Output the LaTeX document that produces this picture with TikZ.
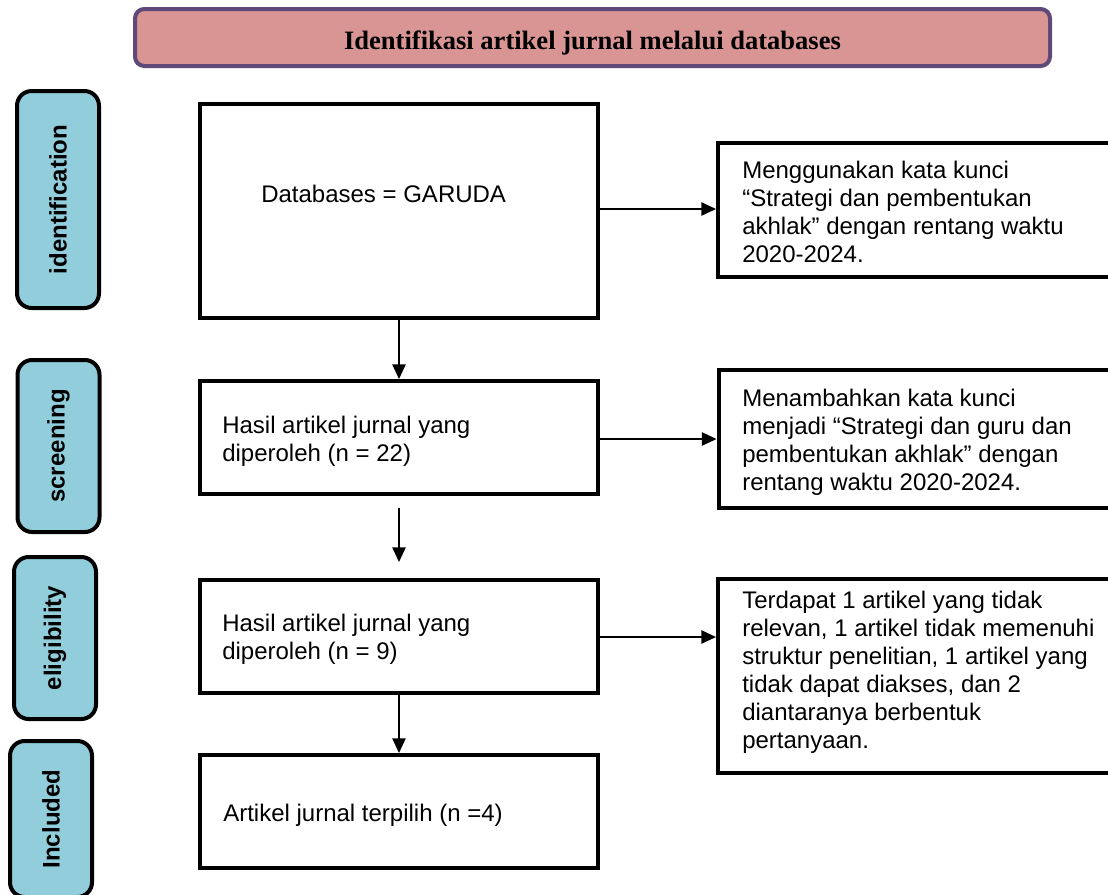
\documentclass[tikz,border=0pt]{standalone}
\usepackage{fontspec}
\setmainfont{Liberation Sans}
\newfontfamily\titlefont{Liberation Serif}
\usetikzlibrary{arrows.meta}
\definecolor{titlefill}{HTML}{D99594}
\definecolor{titleline}{HTML}{5F497A}
\definecolor{sideblue}{HTML}{92CDDC}
\begin{document}
\begin{tikzpicture}[x=0.75pt,y=-0.75pt,
  box/.style={draw, line width=3pt, rectangle, inner sep=0pt, minimum width=298.5pt},
  rbox/.style={draw, line width=3pt, rectangle, inner sep=0pt, minimum width=294.75pt},
  side/.style={draw, line width=3pt, rounded corners=11pt, fill=sideblue, rotate=90,
    minimum height=61.5pt, inner sep=0pt, font=\fontsize{18}{21}\selectfont\bfseries},
  arr/.style={-{Triangle[length=11pt,width=10pt]}, line width=1.1pt},
  txt/.style={anchor=base west, align=left, inner sep=0pt, font=\fontsize{18}{21}\selectfont}]
\useasboundingbox (0,0) rectangle (1108,894);

% title
\node[draw=titleline, line width=3pt, fill=titlefill, rounded corners=7pt,
  minimum width=686.25pt, minimum height=42.75pt, inner sep=0pt] (title) at (592.5,37.5) {};
\node[anchor=base, inner sep=0pt, font=\titlefont\bfseries\fontsize{19.9}{22}\selectfont] (titletext) at (592.5,49) {Identifikasi artikel jurnal melalui databases};

% side labels
\node[side, minimum width=162.75pt] (sIdent) at (58,199.5) {identification};
\node[side, minimum width=129pt] (sScreen) at (58.5,446) {screening};
\node[side, minimum width=121.5pt] (sElig) at (55,638) {eligibility};
\node[side, minimum width=117pt] (sIncl) at (51,819) {Included};

% main boxes
\node[box, minimum height=160.5pt] (b1) at (399,211) {};
\node[box, minimum height=84.75pt] (b2) at (399,437.5) {};
\node[box, minimum height=84.75pt] (b3) at (399,636.5) {};
\node[box, minimum height=84.75pt] (b4) at (399,811.5) {};

% text nodes: anchor is the baseline of the last line
\node[txt] (t1) at (261,202) {Databases = GARUDA};
\node[txt] (t2) at (222,461.5) {Hasil artikel jurnal yang\\diperoleh (n = 22)};
\node[txt] (t3) at (222,659.5) {Hasil artikel jurnal yang\\diperoleh (n = 9)};
\node[txt] (t4) at (223,821.5) {Artikel jurnal terpilih (n =4)};

% right boxes
\node[rbox, minimum height=100.5pt] (r1) at (914.5,210) {};
\node[rbox, minimum height=103.5pt] (r2) at (915,439) {};
\node[rbox, minimum height=145.5pt] (r3) at (914.5,676) {};

\node[txt] (rt1) at (742,262) {Menggunakan kata kunci\\“Strategi dan pembentukan\\akhlak” dengan rentang waktu\\2020-2024.};
\node[txt] (rt2) at (742,490) {Menambahkan kata kunci\\menjadi “Strategi dan guru dan\\pembentukan akhlak” dengan\\rentang waktu 2020-2024.};
\node[txt] (rt3) at (742,748) {Terdapat 1 artikel yang tidak\\relevan, 1 artikel tidak memenuhi\\struktur penelitian, 1 artikel yang\\tidak dapat diakses, dan 2\\diantaranya berbentuk\\pertanyaan.};

% connectors
\coordinate (h1) at (0,209);
\coordinate (h2) at (0,439);
\coordinate (h3) at (0,637);
\draw[arr] (b1.east |- h1) -- (r1.west |- h1);
\draw[arr] (b2.east |- h2) -- (r2.west |- h2);
\draw[arr] (b3.east |- h3) -- (r3.west |- h3);
\draw[arr] (b1.south) -- (b2.north);
\draw[arr] ([yshift=-9pt]b2.south) -- ([yshift=12pt]b3.north);
\draw[arr] (b3.south) -- (b4.north);
\end{tikzpicture}
\end{document}
